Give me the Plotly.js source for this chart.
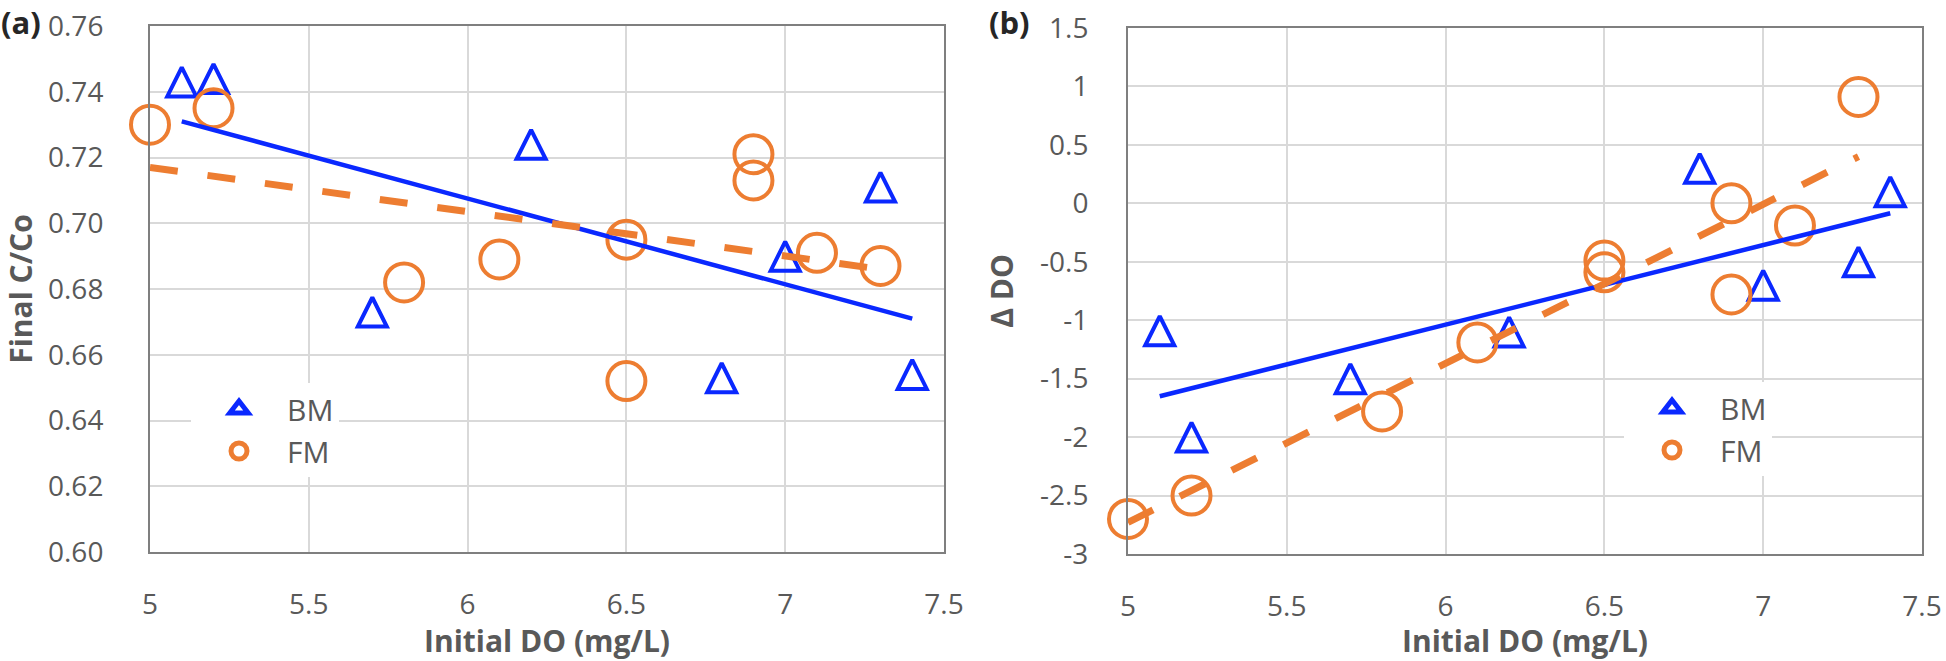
<!DOCTYPE html>
<html>
<head>
<meta charset="utf-8">
<script src="https://cdn.plot.ly/plotly-3.0.1.min.js"></script>
<style>html,body{margin:0;padding:0;background:#fff;}#chart{width:1946px;height:661px;}</style>
</head>
<body>
<div id="chart"></div>
<script>
// ---- data ----
var xBM_a = [5.1, 5.2, 5.7, 6.2, 6.8, 7.0, 7.3, 7.4];
var yBM_a = [0.743, 0.744, 0.673, 0.724, 0.653, 0.690, 0.711, 0.654];
var xFM_a = [5.0, 5.2, 5.8, 6.1, 6.5, 6.5, 6.9, 6.9, 7.1, 7.3];
var yFM_a = [0.730, 0.735, 0.682, 0.689, 0.695, 0.652, 0.721, 0.713, 0.691, 0.687];
var trendBMx_a = [5.1, 7.4], trendBMy_a = [0.731, 0.671];
var trendFMx_a = [5.0, 7.3], trendFMy_a = [0.717, 0.686];

var xBM_b = [5.1, 5.2, 5.7, 6.2, 6.8, 7.0, 7.3, 7.4];
var yBM_b = [-1.09, -2.0, -1.5, -1.1, 0.3, -0.7, -0.5, 0.1];
var xFM_b = [5.0, 5.2, 5.8, 6.1, 6.5, 6.5, 6.9, 6.9, 7.1, 7.3];
var yFM_b = [-2.7, -2.5, -1.78, -1.19, -0.49, -0.59, 0.0, -0.78, -0.19, 0.91];
var trendBMx_b = [5.1, 7.4], trendBMy_b = [-1.65, -0.085];
var trendFMx_b = [5.0, 7.3], trendFMy_b = [-2.73, 0.40];

var xTickVals = [5, 5.5, 6, 6.5, 7, 7.5];
var xTickText = ['5', '5.5', '6', '6.5', '7', '7.5'];
var yTickVals_a = [0.60, 0.62, 0.64, 0.66, 0.68, 0.70, 0.72, 0.74, 0.76];
var yTickText_a = ['0.60', '0.62', '0.64', '0.66', '0.68', '0.70', '0.72', '0.74', '0.76'];
var yTickVals_b = [-3, -2.5, -2, -1.5, -1, -0.5, 0, 0.5, 1, 1.5];
var yTickText_b = ['-3', '-2.5', '-2', '-1.5', '-1', '-0.5', '0', '0.5', '1', '1.5'];

var seriesNames = ['BM', 'FM'];

// ---- styling ----
var BLUE = '#0a28ff', ORANGE = '#ed7d31';
var W = 1946, H = 661;
var FONT = 'Open Sans, Noto Sans, sans-serif';
var TRI = 29, CIRC = 38;

// upward triangle with equal width and height, centred on the point
var triMarker = {symbol: 'arrow-down-open', angle: 180, standoff: TRI / 2, size: TRI,
                 color: BLUE, line: {color: BLUE, width: 4}};
var circMarker = {symbol: 'circle-open', size: CIRC, color: ORANGE, line: {color: ORANGE, width: 4}};
// legend swatches
var triLegend = {symbol: 'triangle-up-open', size: 16, color: BLUE, line: {color: BLUE, width: 5}};
var circLegend = {symbol: 'circle-open', size: 16, color: ORANGE, line: {color: ORANGE, width: 5}};

function panel(xa, ya, leg, xBM, yBM, xFM, yFM, tBx, tBy, tFx, tFy) {
  return [
    {x: xBM, y: yBM, xaxis: xa, yaxis: ya, mode: 'markers', name: seriesNames[0],
     marker: triMarker, showlegend: false, cliponaxis: false},
    {x: xFM, y: yFM, xaxis: xa, yaxis: ya, mode: 'markers', name: seriesNames[1],
     marker: circMarker, showlegend: false, cliponaxis: false},
    {x: tBx, y: tBy, xaxis: xa, yaxis: ya, mode: 'lines', showlegend: false,
     line: {color: BLUE, width: 4.5}},
    {x: tFx, y: tFy, xaxis: xa, yaxis: ya, mode: 'lines', showlegend: false,
     line: {color: ORANGE, width: 7, dash: '28px,30px'}},
    // legend entries
    {x: [null], y: [null], xaxis: xa, yaxis: ya, mode: 'markers', name: seriesNames[0],
     marker: triLegend, legend: leg, showlegend: true},
    {x: [null], y: [null], xaxis: xa, yaxis: ya, mode: 'markers', name: seriesNames[1],
     marker: circLegend, legend: leg, showlegend: true}
  ];
}

var traces = panel('x', 'y', 'legend', xBM_a, yBM_a, xFM_a, yFM_a, trendBMx_a, trendBMy_a, trendFMx_a, trendFMy_a)
  .concat(panel('x2', 'y2', 'legend2', xBM_b, yBM_b, xFM_b, yFM_b, trendBMx_b, trendBMy_b, trendFMx_b, trendFMy_b));

var tickFont = {family: FONT, size: 28, color: '#595959'};
var titleFont = {family: FONT, size: 30, color: '#595959', weight: 'bold'};

function xAxis(domain, anchor) {
  return {domain: domain, anchor: anchor, range: [5, 7.5], tickvals: xTickVals, ticktext: xTickText,
    showgrid: true, gridcolor: '#d9d9d9', gridwidth: 2, zeroline: false,
    showline: true, linecolor: '#7f7f7f', linewidth: 2, mirror: true, ticks: '',
    tickfont: tickFont, ticklabelstandoff: 26,
    title: {text: 'Initial DO (mg/L)', font: titleFont, standoff: 17}};
}
function yAxis(domain, anchor, range, vals, text, title, standoffLbl, standoffTitle) {
  return {domain: domain, anchor: anchor, range: range, tickvals: vals, ticktext: text,
    showgrid: true, gridcolor: '#d9d9d9', gridwidth: 2, zeroline: false,
    showline: true, linecolor: '#7f7f7f', linewidth: 2, mirror: true, ticks: '',
    tickfont: tickFont, ticklabelstandoff: standoffLbl,
    title: {text: title, font: titleFont, standoff: standoffTitle}};
}

var legendBase = {xanchor: 'left', yanchor: 'top', bgcolor: '#ffffff', borderwidth: 0,
                  font: {family: FONT, size: 30, color: '#595959'}, itemwidth: 86, tracegroupgap: 0};

var layout = {
  width: W, height: H,
  margin: {l: 0, r: 0, t: 0, b: 0, autoexpand: false},
  paper_bgcolor: '#ffffff', plot_bgcolor: '#ffffff',
  font: {family: FONT, color: '#595959'},
  xaxis: xAxis([150 / W, 944 / W], 'y'),
  yaxis: yAxis([(H - 552) / H, (H - 26) / H], 'x', [0.60, 0.76], yTickVals_a, yTickText_a, 'Final C/Co', 39, 10),
  xaxis2: xAxis([1128 / W, 1922 / W], 'y2'),
  yaxis2: yAxis([(H - 554) / H, (H - 28) / H], 'x2', [-3, 1.5], yTickVals_b, yTickText_b, '\u0394 DO', 32, 18),
  legend: Object.assign({x: 191 / W, y: (H - 383) / H}, legendBase),
  legend2: Object.assign({x: 1624 / W, y: (H - 382) / H}, legendBase),
  annotations: [
    {text: '<b>(a)</b>', xref: 'paper', yref: 'paper', x: 0, y: 1, xanchor: 'left', yanchor: 'top',
     showarrow: false, borderpad: 0, font: {family: FONT, size: 31, color: '#262626'}},
    {text: '<b>(b)</b>', xref: 'paper', yref: 'paper', x: 988 / W, y: 1, xanchor: 'left', yanchor: 'top',
     showarrow: false, borderpad: 0, font: {family: FONT, size: 31, color: '#262626'}}
  ]
};

Plotly.newPlot('chart', traces, layout, {displayModeBar: false, staticPlot: true});
</script>
</body>
</html>
